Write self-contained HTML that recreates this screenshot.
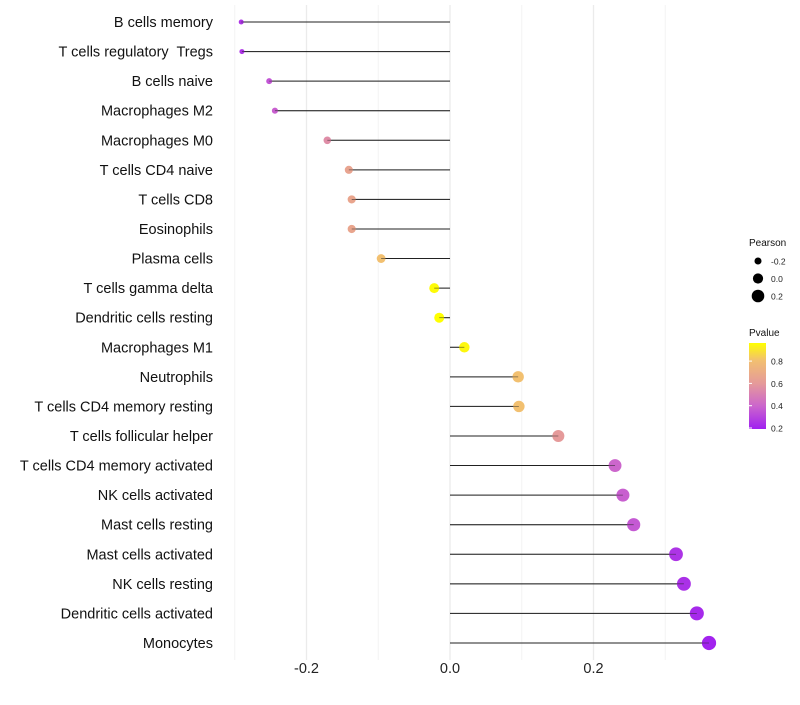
<!DOCTYPE html>
<html><head><meta charset="utf-8"><style>
body{margin:0;background:#fff;font-family:"Liberation Sans",sans-serif}
text{white-space:pre}
</style></head><body>
<svg id="chart" width="800" height="700" xmlns="http://www.w3.org/2000/svg">
<defs><linearGradient id="pg" x1="0" y1="1" x2="0" y2="0">
<stop offset="0" stop-color="#a020f0"/><stop offset="0.27" stop-color="#cc66cc"/>
<stop offset="0.53" stop-color="#e59a9a"/><stop offset="0.8" stop-color="#f2c070"/>
<stop offset="1" stop-color="#ffff00"/></linearGradient></defs>
<g id="grid"></g><g id="marks"></g><g id="labels"></g><g id="legend"></g>
</svg>
<script>
const categories=["B cells memory","T cells regulatory  Tregs","B cells naive","Macrophages M2","Macrophages M0","T cells CD4 naive","T cells CD8","Eosinophils","Plasma cells","T cells gamma delta","Dendritic cells resting","Macrophages M1","Neutrophils","T cells CD4 memory resting","T cells follicular helper","T cells CD4 memory activated","NK cells activated","Mast cells resting","Mast cells activated","NK cells resting","Dendritic cells activated","Monocytes"];
const pearson=[-0.291,-0.290,-0.252,-0.244,-0.171,-0.141,-0.137,-0.137,-0.096,-0.022,-0.015,0.020,0.095,0.096,0.151,0.230,0.241,0.256,0.315,0.326,0.344,0.361];
const pvalue=[0.25,0.25,0.35,0.38,0.55,0.65,0.66,0.66,0.8,0.95,0.96,0.94,0.8,0.8,0.6,0.4,0.38,0.36,0.25,0.24,0.22,0.2];
const xTicks=[-0.2,0.0,0.2];
const xMinor=[-0.3,-0.1,0.1,0.3];
const sizeTicks=[-0.2,0.0,0.2];
const colorTicks=[0.2,0.4,0.6,0.8];
const NS="http://www.w3.org/2000/svg";
const X=v=>450+v*717.5;
const Y=i=>22+i*29.57;
const R=v=>Math.sqrt(Math.max(0.5,26+68*v));
const stops=[[0.19,[160,32,240]],[0.4,[204,102,204]],[0.6,[229,154,154]],[0.8,[242,192,112]],[0.96,[255,255,0]]];
function col(p){p=Math.max(0.19,Math.min(0.96,p));for(let k=0;k<stops.length-1;k++){const[a,ca]=stops[k],[b,cb]=stops[k+1];if(p<=b){const t=(p-a)/(b-a);return"rgb("+ca.map((c,j)=>Math.round(c+(cb[j]-c)*t)).join(",")+")";}}return"#ff0";}
function mk(t,attrs,parent,txt){const e=document.createElementNS(NS,t);for(const k in attrs)e.setAttribute(k,attrs[k]);if(txt!==undefined)e.textContent=txt;document.getElementById(parent).appendChild(e);return e;}
xMinor.forEach(v=>{const l=mk("line",{x1:X(v),x2:X(v),y1:5,y2:660,stroke:"#f4f4f4","stroke-width":1},"grid");

});
xTicks.forEach(v=>{const l=mk("line",{x1:X(v),x2:X(v),y1:5,y2:660,stroke:"#ebebeb","stroke-width":1.3},"grid");


const t=mk("text",{x:X(v),y:673,"text-anchor":"middle","font-size":14.5,fill:"#222"},"labels",v.toFixed(1));

});
categories.forEach((c,i)=>{const y=Y(i);
const t=mk("text",{x:213,y:y+5,"text-anchor":"end","font-size":14.5,fill:"#111"},"labels",c);


const l=mk("line",{x1:X(0),x2:X(pearson[i]),y1:y,y2:y,stroke:"#222","stroke-width":1},"marks");


const d=mk("circle",{cx:X(pearson[i]),cy:y,r:R(pearson[i]),fill:col(pvalue[i])},"marks");


const l2=mk("line",{x1:X(0),x2:X(pearson[i]),y1:y,y2:y,stroke:"#222","stroke-width":0.8,"stroke-opacity":0.6},"marks");

});
let t=mk("text",{x:749,y:246,"font-size":10,fill:"#111"},"legend","Pearson");


sizeTicks.forEach((v,k)=>{const y=261+k*17.5;
const c=mk("circle",{cx:758,cy:y,r:R(v),fill:"#000"},"legend");


const tt=mk("text",{x:771,y:y+3.5,"font-size":8.5,fill:"#222"},"legend",v.toFixed(1));

});
t=mk("text",{x:749,y:336,"font-size":10,fill:"#111"},"legend","Pvalue");


const bar=mk("rect",{x:749,y:343,width:17,height:86,fill:"url(#pg)"},"legend");


colorTicks.forEach(v=>{const y=428-(v-0.2)*111.5;
const tk=mk("line",{x1:749,x2:752,y1:y,y2:y,stroke:"#fff"},"legend");


const tt=mk("text",{x:771,y:y+3.5,"font-size":8.5,fill:"#222"},"legend",v.toFixed(1));

});
</script>
</body></html>
